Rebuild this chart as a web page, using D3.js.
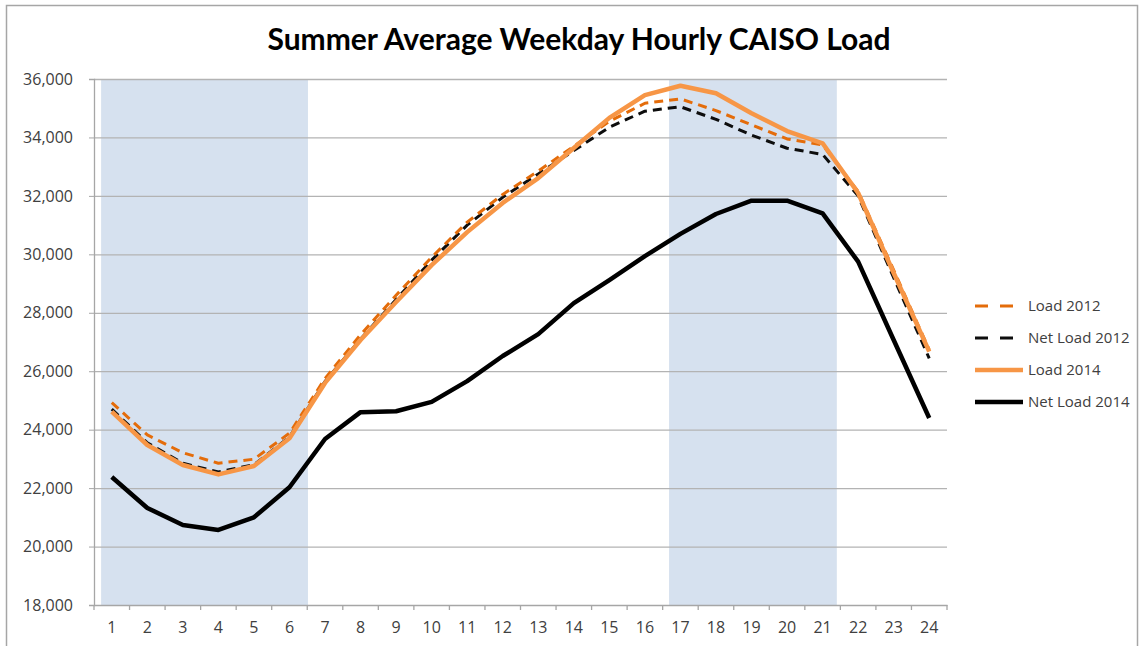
<!DOCTYPE html>
<html><head><meta charset="utf-8">
<script src="https://cdn.jsdelivr.net/npm/d3@7"></script>
<style>body{margin:0;background:#fff;} text{font-family:"Open Sans",Lato,sans-serif;}</style>
</head><body>
<svg id="c" width="1144" height="646"></svg>
<script>
const hours = d3.range(1, 25);
const load2012    = [24925,23820,23210,22850,22990,23880,25750,27250,28600,29900,31100,32050,32850,33700,34550,35170,35320,34920,34430,33950,33740,32150,29460,26730];
const netLoad2012 = [24700,23550,22850,22550,22800,23750,25650,27100,28450,29800,31000,31950,32750,33550,34350,34900,35050,34620,34080,33630,33420,32000,29200,26440];
const load2014    = [24615,23475,22790,22470,22757,23705,25600,27070,28370,29630,30760,31760,32610,33640,34670,35450,35770,35510,34830,34220,33800,32100,29360,26670];
const netLoad2014 = [22380,21320,20740,20570,21000,22030,23680,24600,24630,24950,25660,26520,27270,28330,29120,29940,30700,31380,31835,31835,31400,29750,27070,24400];
const yTicks = [18000,20000,22000,24000,26000,28000,30000,32000,34000,36000];
const shadeRanges = [[0.7, 6.52], [16.68, 21.4]];
const series = [
  {name:"Load 2012", values:load2012, color:"#e46c0a", width:3, dash:"9,6"},
  {name:"Net Load 2012", values:netLoad2012, color:"#0d0d0d", width:3, dash:"9,6"},
  {name:"Load 2014", values:load2014, color:"#f79646", width:4.5, dash:null},
  {name:"Net Load 2014", values:netLoad2014, color:"#000000", width:4.5, dash:null}
];
const drawOrder = [3, 1, 0, 2];

const svg = d3.select("#c");
const L = 94, R = 947, T = 79, B = 605;
svg.append("rect").attr("x",6.5).attr("y",5.5).attr("width",1131).attr("height",660)
  .attr("fill","#fff").attr("stroke","#a6a6a6").attr("stroke-width",1.5);

const xb = d3.scaleBand().domain(hours).range([L, R]).padding(0);
const xc = d3.scaleLinear().domain([0.5, 24.5]).range([L, R]);
const y = d3.scaleLinear().domain([18000, 36000]).range([B, T]);

svg.append("g").selectAll("rect").data(shadeRanges).join("rect")
  .attr("x", d => xc(d[0])).attr("width", d => xc(d[1]) - xc(d[0]))
  .attr("y", y(36000)).attr("height", y(18000) - y(36000))
  .attr("fill", "#d6e1ef");

svg.append("g").selectAll("line").data(yTicks.filter(t => t > 18000)).join("line")
  .attr("x1", L).attr("x2", R).attr("y1", d => y(d)+0.5).attr("y2", d => y(d)+0.5)
  .attr("stroke", "#b3b3b3").attr("stroke-width", 1.3);

const yAxis = d3.axisLeft(y).tickValues(yTicks).tickFormat(d3.format(",")).tickSize(5).tickPadding(16);
const gy = svg.append("g").attr("transform", `translate(${L},0)`).call(yAxis);
gy.select(".domain").attr("stroke", "#a6a6a6").attr("stroke-width",1.3);
gy.selectAll(".tick line").attr("stroke", "#a6a6a6");
gy.selectAll("text").attr("font-size", 16).attr("fill", "#404040").style("font-family","'Open Sans', sans-serif");

const xAxis = d3.axisBottom(xb).tickSize(0).tickPadding(15);
const gx = svg.append("g").attr("transform", `translate(0,${B})`).call(xAxis);
gx.select(".domain").attr("stroke", "#a6a6a6").attr("stroke-width",1.3);
gx.selectAll("text").attr("font-size", 16).attr("fill", "#404040").attr("dy","0.8em").style("font-family","'Open Sans', sans-serif");
svg.append("g").selectAll("line").data(d3.range(0, 25)).join("line")
  .attr("x1", d => xc(d + 0.5)).attr("x2", d => xc(d + 0.5))
  .attr("y1", B).attr("y2", B + 5).attr("stroke", "#a6a6a6").attr("stroke-width",1.3);

const line = d3.line().x((d, i) => xb(hours[i]) + xb.bandwidth()/2).y(d => y(d));
drawOrder.forEach(i => {
  const s = series[i];
  svg.append("path").datum(s.values).attr("d", line)
    .attr("fill", "none").attr("stroke", s.color).attr("stroke-width", s.width)
    .attr("stroke-linejoin", "round")
    .attr("stroke-dasharray", s.dash);
});

const lg = svg.append("g").attr("transform", "translate(975,306)");
series.forEach((s, i) => {
  const g = lg.append("g").attr("transform", `translate(0,${i*32})`);
  g.append("line").attr("x1", 0).attr("x2", s.dash ? 50 : 48).attr("y1", 0).attr("y2", 0)
    .attr("stroke", s.color).attr("stroke-width", s.width)
    .attr("stroke-dasharray", s.dash ? "13,12" : null);
  g.append("text").attr("x", 53).attr("y", 0).attr("dy", "0.35em")
    .attr("font-size", 15).attr("fill", "#404040").text(s.name);
});

svg.append("text").attr("x", 579).attr("y", 50).attr("text-anchor", "middle")
  .attr("font-size", 30).attr("font-weight", "bold").attr("fill", "#000")
  .style("font-family","Lato, 'Open Sans', sans-serif")
  .text("Summer Average Weekday Hourly CAISO Load");
</script>
</body></html>
